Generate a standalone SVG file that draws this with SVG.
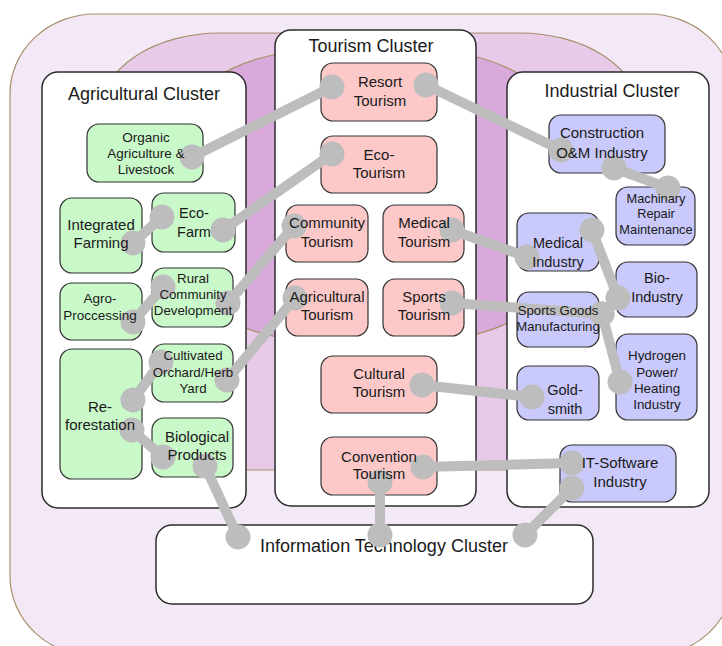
<svg xmlns="http://www.w3.org/2000/svg" width="722" height="646" viewBox="0 0 722 646">
<defs>
<style>
.bg{stroke:#a88f6a;stroke-width:1.2}
.cl{fill:#ffffff;stroke:#2b2b2b;stroke-width:1.5}
.nd{stroke:#333333;stroke-width:1.2}
.g{fill:#c9f8c9}
.p{fill:#fcc8c8}
.b{fill:#c9c9fb}
text{font-family:"Liberation Sans",Arial,sans-serif;fill:#1a1a1a;text-anchor:middle}
.t{font-size:18px}
.cn{stroke:#bdbdbd;stroke-width:10;fill:none;marker-start:url(#dot);marker-end:url(#dot)}
</style>
<marker id="dot" markerUnits="userSpaceOnUse" markerWidth="26" markerHeight="26" refX="13" refY="13" viewBox="0 0 26 26">
<circle cx="13" cy="13" r="12.5" fill="#bdbdbd"/>
</marker>
</defs>

<g id="background">
<rect class="bg" x="10" y="14" width="724" height="642" rx="85" ry="80" fill="#f3e8f5"/>
<rect class="bg" x="100" y="33" width="540" height="437" rx="120" ry="80" fill="#e6cae8"/>
<rect class="bg" x="195" y="50" width="351" height="291" rx="130" ry="62" fill="#d8a9da"/>
</g>

<g id="agricultural-cluster"><rect class="cl" x="42" y="72" width="204" height="436" rx="16"/><text class="t" x="144" y="100">Agricultural Cluster</text></g>
<g id="tourism-cluster"><rect class="cl" x="275" y="30" width="201" height="476" rx="16"/><text class="t" x="371" y="52">Tourism Cluster</text></g>
<g id="industrial-cluster"><rect class="cl" x="507" y="72" width="202" height="435" rx="16"/><text class="t" x="612" y="97">Industrial Cluster</text></g>
<g id="it-cluster"><rect class="cl" x="156" y="525" width="437" height="79" rx="16"/><text class="t" x="384" y="552">Information Technology Cluster</text></g>

<g id="nodes">
<g id="organic"><rect class="nd g" x="87" y="124" width="116" height="58" rx="12"/></g>
<g id="integrated-farming"><rect class="nd g" x="60" y="198" width="82" height="75" rx="12"/></g>
<g id="eco-farm"><rect class="nd g" x="152" y="193" width="83" height="59" rx="12"/></g>
<g id="agro-processing"><rect class="nd g" x="60" y="283" width="82" height="57" rx="12"/></g>
<g id="rural-community"><rect class="nd g" x="152" y="268" width="81" height="59" rx="12"/></g>
<g id="reforestation"><rect class="nd g" x="60" y="349" width="82" height="130" rx="12"/></g>
<g id="cultivated-orchard"><rect class="nd g" x="152" y="344" width="81" height="58" rx="12"/></g>
<g id="biological-products"><rect class="nd g" x="152" y="418" width="81" height="59" rx="12"/></g>

<g id="resort-tourism"><rect class="nd p" x="321" y="63" width="116" height="58" rx="12"/></g>
<g id="eco-tourism"><rect class="nd p" x="321" y="136" width="116" height="57" rx="12"/></g>
<g id="community-tourism"><rect class="nd p" x="286" y="205" width="82" height="57" rx="12"/></g>
<g id="medical-tourism"><rect class="nd p" x="383" y="205" width="81" height="57" rx="12"/></g>
<g id="agricultural-tourism"><rect class="nd p" x="286" y="279" width="82" height="57" rx="12"/></g>
<g id="sports-tourism"><rect class="nd p" x="383" y="279" width="81" height="57" rx="12"/></g>
<g id="cultural-tourism"><rect class="nd p" x="321" y="356" width="116" height="57" rx="12"/></g>
<g id="convention-tourism"><rect class="nd p" x="321" y="437" width="116" height="58" rx="12"/></g>

<g id="construction"><rect class="nd b" x="549" y="115" width="116" height="58" rx="12"/></g>
<g id="machinary"><rect class="nd b" x="616" y="187" width="79" height="58" rx="12"/></g>
<g id="medical-industry"><rect class="nd b" x="517" y="213" width="82" height="58" rx="12"/></g>
<g id="bio-industry"><rect class="nd b" x="616" y="262" width="81" height="55" rx="12"/></g>
<g id="sports-goods"><rect class="nd b" x="517" y="292" width="82" height="55" rx="12"/></g>
<g id="hydrogen"><rect class="nd b" x="616" y="334" width="81" height="86" rx="12"/></g>
<g id="goldsmith"><rect class="nd b" x="517" y="366" width="82" height="54" rx="12"/></g>
<g id="it-software"><rect class="nd b" x="560" y="445" width="116" height="57" rx="12"/></g>
</g>

<g id="connectors">
<line class="cn" x1="192" y1="157" x2="332" y2="87"/>
<line class="cn" x1="223" y1="230" x2="332" y2="154"/>
<line class="cn" x1="426" y1="85" x2="561" y2="150"/>
<line class="cn" x1="614" y1="168" x2="668" y2="188"/>
<line class="cn" x1="133" y1="243" x2="162" y2="217"/>
<line class="cn" x1="133" y1="322" x2="163" y2="287"/>
<line class="cn" x1="228" y1="303" x2="294" y2="226"/>
<line class="cn" x1="227" y1="380" x2="295" y2="298"/>
<line class="cn" x1="133" y1="400" x2="161" y2="362"/>
<line class="cn" x1="132" y1="430" x2="163" y2="457"/>
<line class="cn" x1="205" y1="466" x2="238" y2="537"/>
<line class="cn" x1="380" y1="482" x2="380" y2="535"/>
<line class="cn" x1="572" y1="488" x2="525" y2="535"/>
<line class="cn" x1="423" y1="467" x2="572" y2="463"/>
<line class="cn" x1="452" y1="230" x2="527" y2="257"/>
<line class="cn" x1="452" y1="303" x2="602" y2="314"/>
<line class="cn" x1="592" y1="230" x2="618" y2="298"/>
<line class="cn" x1="602" y1="314" x2="620" y2="382"/>
<line class="cn" x1="422" y1="385" x2="532" y2="397"/>
</g>

<g id="labels">
<text id="l-organic" font-size="13.5"><tspan x="146" y="142">Organic</tspan><tspan x="146" y="158">Agriculture &amp;</tspan><tspan x="146" y="174">Livestock</tspan></text>
<text id="l-integrated" font-size="15"><tspan x="101" y="230">Integrated</tspan><tspan x="101" y="248">Farming</tspan></text>
<text id="l-ecofarm" font-size="14.5"><tspan x="194" y="218">Eco-</tspan><tspan x="194" y="237">Farm</tspan></text>
<text id="l-agro" font-size="13.5"><tspan x="100" y="303">Agro-</tspan><tspan x="100" y="320">Proccessing</tspan></text>
<text id="l-rural" font-size="13.3"><tspan x="193" y="283">Rural</tspan><tspan x="193" y="299">Community</tspan><tspan x="193" y="315">Development</tspan></text>
<text id="l-reforestation" font-size="15"><tspan x="100" y="412">Re-</tspan><tspan x="100" y="430">forestation</tspan></text>
<text id="l-cultivated" font-size="13.3"><tspan x="193" y="360">Cultivated</tspan><tspan x="193" y="377">Orchard/Herb</tspan><tspan x="193" y="393">Yard</tspan></text>
<text id="l-biological" font-size="15"><tspan x="197" y="442">Biological</tspan><tspan x="197" y="460">Products</tspan></text>

<text id="l-resort" font-size="15"><tspan x="380" y="87">Resort</tspan><tspan x="380" y="106">Tourism</tspan></text>
<text id="l-ecotourism" font-size="15"><tspan x="379" y="160">Eco-</tspan><tspan x="379" y="178">Tourism</tspan></text>
<text id="l-community" font-size="15"><tspan x="327" y="228">Community</tspan><tspan x="327" y="247">Tourism</tspan></text>
<text id="l-medtour" font-size="15"><tspan x="424" y="228">Medical</tspan><tspan x="424" y="247">Tourism</tspan></text>
<text id="l-agritour" font-size="15"><tspan x="327" y="302">Agricultural</tspan><tspan x="327" y="320">Tourism</tspan></text>
<text id="l-sportstour" font-size="15"><tspan x="424" y="302">Sports</tspan><tspan x="424" y="320">Tourism</tspan></text>
<text id="l-cultural" font-size="15"><tspan x="379" y="379">Cultural</tspan><tspan x="379" y="397">Tourism</tspan></text>
<text id="l-convention" font-size="15"><tspan x="379" y="462">Convention</tspan><tspan x="379" y="479">Tourism</tspan></text>

<text id="l-construction" font-size="15"><tspan x="602" y="138">Construction</tspan><tspan x="602" y="158">O&amp;M Industry</tspan></text>
<text id="l-machinary" font-size="12.8"><tspan x="656" y="203">Machinary</tspan><tspan x="656" y="218">Repair</tspan><tspan x="656" y="234">Maintenance</tspan></text>
<text id="l-medind" font-size="14.5"><tspan x="558" y="248">Medical</tspan><tspan x="558" y="267">Industry</tspan></text>
<text id="l-bio" font-size="14.5"><tspan x="657" y="283">Bio-</tspan><tspan x="657" y="302">Industry</tspan></text>
<text id="l-sportsgoods" font-size="13.2"><tspan x="558" y="315">Sports Goods</tspan><tspan x="558" y="331">Manufacturing</tspan></text>
<text id="l-hydrogen" font-size="13.4"><tspan x="657" y="360">Hydrogen</tspan><tspan x="657" y="377">Power/</tspan><tspan x="657" y="393">Heating</tspan><tspan x="657" y="409">Industry</tspan></text>
<text id="l-goldsmith" font-size="14.5"><tspan x="565" y="395">Gold-</tspan><tspan x="565" y="414">smith</tspan></text>
<text id="l-itsoftware" font-size="15"><tspan x="620" y="468">IT-Software</tspan><tspan x="620" y="487">Industry</tspan></text>
</g>
</svg>
